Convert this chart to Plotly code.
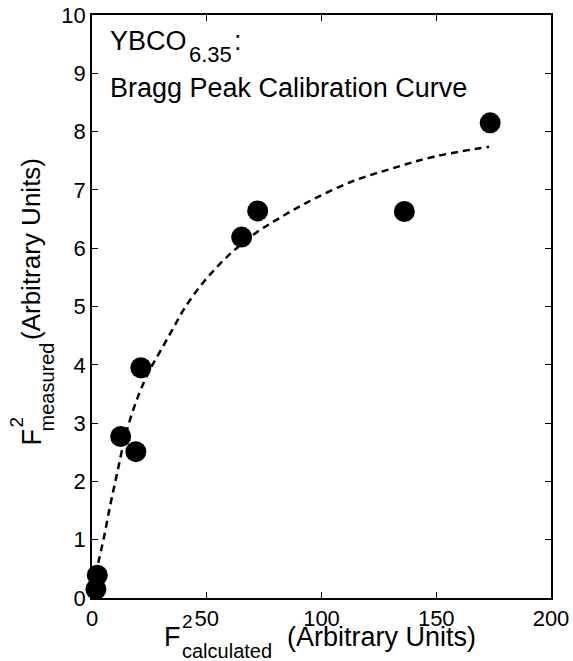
import plotly.graph_objects as go

# Measured points
x_meas = [1.7, 2.3, 12.5, 19.1, 21.3, 65.2, 72.2, 136.1, 173.5]
y_meas = [0.15, 0.39, 2.77, 2.51, 3.95, 6.19, 6.64, 6.63, 8.15]

# Calibration curve
fit_x = [1.7, 3, 5, 8, 11, 15, 20, 25, 30, 35, 40, 47, 55, 63, 72, 81, 93, 113, 131, 149, 173]
fit_y = [0.4, 0.65, 1.0, 1.6, 2.15, 2.85, 3.45, 3.9, 4.25, 4.6, 4.95, 5.34, 5.7, 6.0, 6.28, 6.5, 6.77, 7.14, 7.37, 7.57, 7.74]

x_ticks = [0, 50, 100, 150, 200]
y_ticks = [0, 1, 2, 3, 4, 5, 6, 7, 8, 9, 10]

W, H = 573, 661
L, R, T, B = 92, 22, 15, 63
PW, PH = W - L - R, H - T - B
FONT = "Liberation Sans, Arial, Helvetica, sans-serif"
TITLE_SIZE = 27


def px(xp):
    return (xp - L) / PW


def py(yp):
    return (H - B - yp) / PH


fig = go.Figure()
fig.add_trace(go.Scatter(
    x=fit_x, y=fit_y, mode="lines", line_shape="spline",
    line=dict(color="black", width=2.5, dash="7px,5px"), showlegend=False,
    cliponaxis=False))
fig.add_trace(go.Scatter(
    x=x_meas, y=y_meas, mode="markers", cliponaxis=False,
    marker=dict(color="black", size=21, line=dict(width=0)), showlegend=False))

ann = []


def add(text, x, y, size, xanchor="left", yanchor="middle", angle=0):
    ann.append(dict(text=text, x=px(x), y=py(y), xref="paper", yref="paper",
                    xanchor=xanchor, yanchor=yanchor, showarrow=False,
                    textangle=angle, font=dict(family=FONT, size=size, color="black")))


# inset label
add("YBCO", 108, 41, TITLE_SIZE)
add("6.35", 187, 55, 22)
add(":", 232, 41, TITLE_SIZE)
add("Bragg Peak Calibration Curve", 108, 88, TITLE_SIZE)

# x title
add("F", 162, 637, TITLE_SIZE)
add("2", 180, 621, 19)
add("calculated", 180, 651, 20)
add("(Arbitrary Units)", 285, 637, TITLE_SIZE)

# y title (rotated)
add("F", 31, 447, TITLE_SIZE, xanchor="center", yanchor="bottom", angle=-90)
add("2", 16, 430, 19, xanchor="center", yanchor="bottom", angle=-90)
add("measured", 46, 434, 20, xanchor="center", yanchor="bottom", angle=-90)
add("(Arbitrary Units)", 31, 342, 26, xanchor="center", yanchor="bottom", angle=-90)

axis_common = dict(showgrid=False, zeroline=False, showline=True, linecolor="black",
                   linewidth=1.5, mirror="ticks", ticks="inside", ticklen=6,
                   tickwidth=1, tickcolor="black", automargin=False,
                   tickfont=dict(family=FONT, size=22, color="black"))

fig.update_layout(
    template="none",
    width=W, height=H, autosize=False,
    margin=dict(l=L, r=R, t=T, b=B, pad=0),
    paper_bgcolor="white", plot_bgcolor="white",
    xaxis=dict(range=[0, 200], tickvals=x_ticks, **axis_common),
    yaxis=dict(range=[0, 10], tickvals=y_ticks, **axis_common),
    annotations=ann,
)

fig.write_html("out.html", config={"displayModeBar": False},
               post_script="document.body.style.margin='0px';document.body.style.overflow='hidden';")
